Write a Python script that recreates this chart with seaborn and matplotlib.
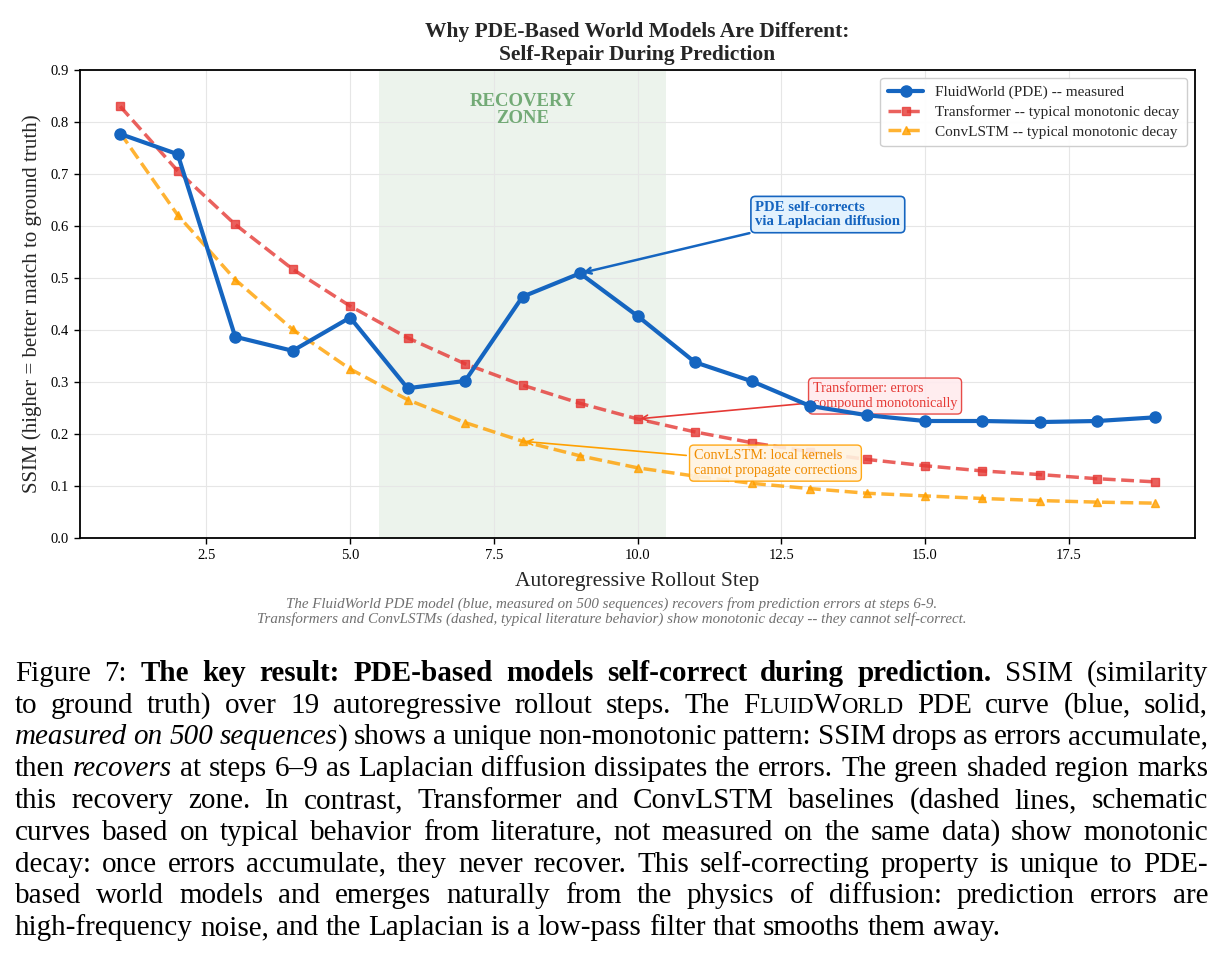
import numpy as np
import pandas as pd
import matplotlib
matplotlib.use("Agg")
import matplotlib.pyplot as plt
import seaborn as sns

# ---------------- data ----------------
steps = list(range(1, 20))
fluidworld = [0.777, 0.738, 0.387, 0.360, 0.424, 0.288, 0.302, 0.464, 0.509, 0.427,
              0.338, 0.301, 0.254, 0.236, 0.225, 0.225, 0.223, 0.225, 0.232]
transformer = [0.830, 0.706, 0.603, 0.517, 0.446, 0.385, 0.335, 0.294, 0.259, 0.229,
               0.204, 0.183, 0.166, 0.151, 0.139, 0.129, 0.122, 0.114, 0.108]
convlstm = [0.779, 0.621, 0.497, 0.401, 0.325, 0.266, 0.222, 0.186, 0.158, 0.135,
            0.119, 0.105, 0.095, 0.086, 0.081, 0.076, 0.072, 0.069, 0.067]
series_labels = ["FluidWorld (PDE) -- measured",
                 "Transformer -- typical monotonic decay",
                 "ConvLSTM -- typical monotonic decay"]
recovery_zone = (5.5, 10.5)
y_ticks = [0.0, 0.1, 0.2, 0.3, 0.4, 0.5, 0.6, 0.7, 0.8, 0.9]

BLUE = "#1565C0"
RED = "#E53935"
ORANGE = "#FFA000"
GREEN = "#5E9E62"

sns.set_theme(style="whitegrid")
plt.rcParams["font.family"] = ["Liberation Serif", "DejaVu Serif"]
plt.rcParams["mathtext.fontset"] = "stix"

W, H = 1223, 966
fig = plt.figure(figsize=(W / 100, H / 100), dpi=100)
ax = fig.add_axes([80 / W, 1 - 538 / H, (1195 - 80) / W, (538 - 70) / H])

df = pd.DataFrame({"step": steps, "fw": fluidworld, "tr": transformer, "cl": convlstm})

ax.axvspan(recovery_zone[0], recovery_zone[1], color="#2E7D32", alpha=0.09, lw=0, zorder=0)

sns.lineplot(data=df, x="step", y="tr", ax=ax, color=RED, lw=2.5, ls="--", alpha=0.8,
             marker="s", markersize=6, mec=RED, mew=1.0, label=series_labels[1], zorder=3)
sns.lineplot(data=df, x="step", y="cl", ax=ax, color=ORANGE, lw=2.5, ls="--", alpha=0.8,
             marker="^", markersize=6, mec=ORANGE, mew=1.0, label=series_labels[2], zorder=3)
sns.lineplot(data=df, x="step", y="fw", ax=ax, color=BLUE, lw=3, marker="o", markersize=8,
             mec=BLUE, mew=1.0, label=series_labels[0], zorder=6)

ax.set_xlim(0.3, 19.7)
ax.set_ylim(0, 0.9)
ax.set_yticks(y_ticks)
ax.set_yticklabels([f"{v:.1f}" for v in y_ticks])
ax.grid(True, color="#E6E6E6", lw=0.8)
for s in ax.spines.values():
    s.set_color("black")
    s.set_linewidth(1.3)
ax.tick_params(axis="both", which="major", labelsize=10.5, length=4, width=1,
               color="black", bottom=True, left=True, labelcolor="black", pad=4)

ax.set_xlabel("Autoregressive Rollout Step", fontsize=15.5, labelpad=7)
ax.set_ylabel("SSIM (higher = better match to ground truth)", fontsize=15, labelpad=6)
ax.set_title("Why PDE-Based World Models Are Different:\nSelf-Repair During Prediction",
             fontsize=15.5, weight="bold", pad=7, linespacing=1.2)

# legend in fixed order
handles, labels = ax.get_legend_handles_labels()
order = [labels.index(l) for l in series_labels]
leg = ax.legend([handles[i] for i in order], [labels[i] for i in order], loc="upper right",
                fontsize=11, frameon=True, framealpha=0.95, edgecolor="#CCCCCC",
                borderpad=0.5, handlelength=2.3, labelspacing=0.4)
leg.set_zorder(10)

ax.text(8.0, 0.823, "RECOVERY\nZONE", ha="center", va="center", fontsize=13.5,
        weight="bold", color=GREEN, alpha=0.85, linespacing=1.0, zorder=2)

ax.annotate("PDE self-corrects\nvia Laplacian diffusion", xy=(9, fluidworld[8]),
            xytext=(12.05, 0.622), ha="left", va="center", fontsize=10.6, weight="bold",
            color=BLUE, linespacing=1.15,
            bbox=dict(boxstyle="round,pad=0.3", fc="#E3F2FD", ec=BLUE, lw=1.2),
            arrowprops=dict(arrowstyle="->", color=BLUE, lw=1.8), zorder=7)

ax.annotate("Transformer: errors\ncompound monotonically", xy=(10, transformer[9]),
            xytext=(13.05, 0.273), ha="left", va="center", fontsize=10.2,
            color=RED, linespacing=1.15,
            bbox=dict(boxstyle="round,pad=0.3", fc="#FFEBEE", ec=RED, lw=1.0, alpha=0.9),
            arrowprops=dict(arrowstyle="->", color=RED, lw=1.2), zorder=5)

ax.annotate("ConvLSTM: local kernels\ncannot propagate corrections", xy=(8, convlstm[7]),
            xytext=(10.98, 0.144), ha="left", va="center", fontsize=10.3,
            color="#F08C00", linespacing=1.15,
            bbox=dict(boxstyle="round,pad=0.3", fc="#FFF3E0", ec=ORANGE, lw=1.0, alpha=0.9),
            arrowprops=dict(arrowstyle="->", color=ORANGE, lw=1.2), zorder=5)

# small italic note under the chart
fig.text(0.5, 1 - 604 / H,
         "The FluidWorld PDE model (blue, measured on 500 sequences) recovers from prediction errors at steps 6-9.",
         ha="center", va="center", fontsize=10.8, style="italic", color="#707070")
fig.text(0.5, 1 - 619 / H,
         "Transformers and ConvLSTMs (dashed, typical literature behavior) show monotonic decay -- they cannot self-correct.",
         ha="center", va="center", fontsize=10.8, style="italic", color="#707070")

# ---------------- figure caption (justified) ----------------
caption_lines = [
    [("Figure 7: ", "r"), ("The key result: PDE-based models self-correct during prediction.", "b"),
     (" SSIM (similarity", "r")],
    [("to ground truth) over 19 autoregressive rollout steps. The ", "r"), ("F", "r"), ("LUID", "sc"),
     ("W", "r"), ("ORLD", "sc"), (" PDE curve (blue, solid,", "r")],
    [("measured on 500 sequences", "i"), (") shows a unique non-monotonic pattern: SSIM drops as errors accumulate,", "r")],
    [("then ", "r"), ("recovers", "i"),
     (" at steps 6\u20139 as Laplacian diffusion dissipates the errors. The green shaded region marks", "r")],
    [("this recovery zone. In contrast, Transformer and ConvLSTM baselines (dashed lines, schematic", "r")],
    [("curves based on typical behavior from literature, not measured on the same data) show monotonic", "r")],
    [("decay: once errors accumulate, they never recover. This self-correcting property is unique to PDE-", "r")],
    [("based world models and emerges naturally from the physics of diffusion: prediction errors are", "r")],
    [("high-frequency noise, and the Laplacian is a low-pass filter that smooths them away.", "r")],
]
CAP_SIZE = 21.0
styles = {"r": dict(), "b": dict(weight="bold"), "i": dict(style="italic"),
          "sc": dict(size=CAP_SIZE * 0.78)}


def tokenize(segs):
    words = [[]]
    for txt, st in segs:
        parts = txt.split(" ")
        for k, p in enumerate(parts):
            if k > 0 and words[-1]:
                words.append([])
            if p:
                words[-1].append((p, st))
    return [w for w in words if w]


renderer = fig.canvas.get_renderer()
x_left, x_right = 15, 1208
base0, dy = 681, 31.75
probe = fig.text(0, 0, "a a", fontsize=CAP_SIZE)
probe2 = fig.text(0, 0, "aa", fontsize=CAP_SIZE)
space_w = probe.get_window_extent(renderer).width - probe2.get_window_extent(renderer).width
probe.remove()
probe2.remove()

for li, segs in enumerate(caption_lines):
    yb = 1 - (base0 + li * dy) / H
    words = tokenize(segs)
    objs = []
    widths = []
    for w in words:
        pieces = []
        tw = 0
        for txt, st in w:
            kw = dict(fontsize=CAP_SIZE, color="black", va="baseline", ha="left")
            kw.update(styles[st])
            if "size" in kw:
                kw["fontsize"] = kw.pop("size")
            t = fig.text(0, yb, txt, **kw)
            pw = t.get_window_extent(renderer).width
            pieces.append((t, pw))
            tw += pw
        objs.append(pieces)
        widths.append(tw)
    last = li == len(caption_lines) - 1
    if last or len(words) < 2:
        gap = space_w
    else:
        gap = (x_right - x_left - sum(widths)) / (len(words) - 1)
        gap = max(gap, space_w * 0.6)
    x = x_left
    for pieces, tw in zip(objs, widths):
        xx = x
        for t, pw in pieces:
            t.set_x(xx / W)
            xx += pw
        x += tw + gap

fig.savefig("out.png", dpi=100)
